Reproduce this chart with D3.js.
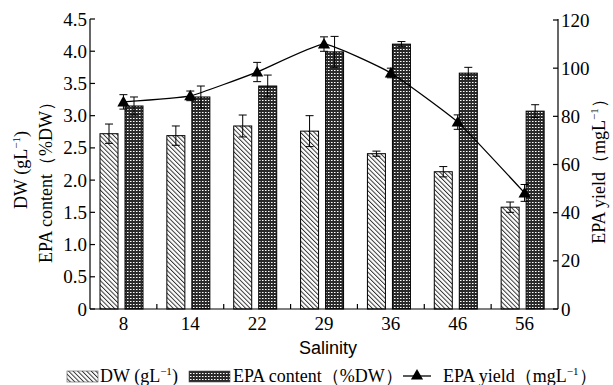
<!DOCTYPE html>
<html><head><meta charset="utf-8">
<script src="https://cdn.jsdelivr.net/npm/d3@7"></script>
<style>body{margin:0;background:#fff}svg{display:block}
.serif{font-family:"Liberation Serif","DejaVu Serif","Times New Roman",serif}
.sans{font-family:"Liberation Sans",Arial,sans-serif}
</style>
</head><body>
<script>
const categories = ["8","14","22","29","36","46","56"];
const dwValues = [2.72,2.69,2.84,2.76,2.41,2.13,1.58];
const dwErrors = [0.15,0.15,0.17,0.24,0.04,0.08,0.08];
const epaContent = [3.15,3.29,3.46,3.99,4.11,3.66,3.07];
const epaContentErr = [0.14,0.17,0.17,0.24,0.04,0.09,0.10];
const epaYield = [86,88.5,98.4,110,98,77.6,48.2];
const epaYieldErr = [3,2,4,3,2,3,3.5];
const leftTicks = [0,0.5,1.0,1.5,2.0,2.5,3.0,3.5,4.0,4.5];
const rightTicks = [0,20,40,60,80,100,120];

const W=613,H=385;
const svg=d3.select("body").append("svg").attr("width",W).attr("height",H);
const defs=svg.append("defs");
const hatch=defs.append("pattern").attr("id","hatch").attr("patternUnits","userSpaceOnUse")
  .attr("width",3.2).attr("height",3.2).attr("patternTransform","rotate(-45)");
hatch.append("rect").attr("width",3.2).attr("height",3.2).attr("fill","#fff");
hatch.append("line").attr("x1",0.5).attr("y1",0).attr("x2",0.5).attr("y2",3.2).attr("stroke","#222").attr("stroke-width",0.9);
const dots=defs.append("pattern").attr("id","dots").attr("patternUnits","userSpaceOnUse").attr("width",3).attr("height",3);
dots.append("rect").attr("width",3).attr("height",3).attr("fill","#2a2a2a");
dots.append("rect").attr("x",1).attr("y",1).attr("width",1).attr("height",1).attr("fill","#fff");
dots.append("rect").attr("x",2).attr("y",1).attr("width",1).attr("height",1).attr("fill","#999");

const x0=90,x1=558,yTop=19,yBot=309;
const x=d3.scaleBand().domain(categories).range([x0,x1]).padding(0);
const yL=d3.scaleLinear().domain([0,4.5]).range([yBot,yTop]);
const yR=d3.scaleLinear().domain([0,120]).range([yBot,yTop+1]);
const bw=x.bandwidth();
const barW=18;

const g=svg.append("g");
g.selectAll(".dw").data(categories).join("rect")
  .attr("x",d=>x(d)+10).attr("width",barW)
  .attr("y",(d,i)=>yL(dwValues[i])).attr("height",(d,i)=>yBot-yL(dwValues[i]))
  .attr("fill","url(#hatch)").attr("stroke","#000").attr("stroke-width",1);
g.selectAll(".epa").data(categories).join("rect")
  .attr("x",d=>x(d)+35).attr("width",barW)
  .attr("y",(d,i)=>yL(epaContent[i])).attr("height",(d,i)=>yBot-yL(epaContent[i]))
  .attr("fill","url(#dots)").attr("stroke","#000").attr("stroke-width",1);

function errBar(cx,yTopV,yBotV){
  const p=g.append("g").attr("stroke","#000").attr("stroke-width",1).attr("fill","none");
  p.append("line").attr("x1",cx).attr("x2",cx).attr("y1",yTopV).attr("y2",yBotV);
  p.append("line").attr("x1",cx-4).attr("x2",cx+4).attr("y1",yTopV).attr("y2",yTopV);
  p.append("line").attr("x1",cx-4).attr("x2",cx+4).attr("y1",yBotV).attr("y2",yBotV);
}
categories.forEach((c,i)=>{
  errBar(x(c)+10+barW/2, yL(dwValues[i]+dwErrors[i]), yL(dwValues[i]-dwErrors[i]));
  errBar(x(c)+35+barW/2, yL(epaContent[i]+epaContentErr[i]), yL(epaContent[i]-epaContentErr[i]));
});
categories.forEach((c,i)=>{
  errBar(x(c)+bw/2, yR(epaYield[i]+epaYieldErr[i]), yR(epaYield[i]-epaYieldErr[i]));
});
const line=d3.line().x((d,i)=>x(categories[i])+bw/2).y(d=>yR(d)).curve(d3.curveCardinal.tension(0.6));
g.append("path").datum(epaYield).attr("d",line).attr("fill","none").attr("stroke","#000").attr("stroke-width",1.3);
const tri=d3.symbol().type(d3.symbolTriangle).size(64);
g.selectAll(".tri").data(epaYield).join("path")
  .attr("d",tri).attr("transform",(d,i)=>`translate(${x(categories[i])+bw/2},${yR(d)+1})`).attr("fill","#000");

const ax=svg.append("g").attr("stroke","#000").attr("stroke-width",1.2).attr("fill","none");
ax.append("line").attr("x1",x0).attr("x2",x0).attr("y1",yTop).attr("y2",yBot);
ax.append("line").attr("x1",x1).attr("x2",x1).attr("y1",yTop).attr("y2",yBot);
ax.append("line").attr("x1",x0).attr("x2",x1).attr("y1",yBot).attr("y2",yBot);
leftTicks.forEach(t=>{ax.append("line").attr("x1",x0).attr("x2",x0+5).attr("y1",yL(t)).attr("y2",yL(t));});
rightTicks.forEach(t=>{ax.append("line").attr("x1",x1-5).attr("x2",x1).attr("y1",yR(t)).attr("y2",yR(t));});
categories.slice(1).forEach(c=>{ax.append("line").attr("x1",x(c)).attr("x2",x(c)).attr("y1",yBot).attr("y2",yBot-5);});

const txt=svg.append("g").attr("class","serif").attr("fill","#000");
leftTicks.forEach(t=>{
  txt.append("text").attr("x",x0-3).attr("y",yL(t)+6.5).attr("text-anchor","end").attr("font-size",19)
   .text(t===0?"0":d3.format(".1f")(t));
});
rightTicks.forEach(t=>{
  txt.append("text").attr("x",x1+3).attr("y",yR(t)+6.5).attr("font-size",19).text(t);
});
categories.forEach(c=>{
  txt.append("text").attr("x",x(c)+bw/2).attr("y",330).attr("text-anchor","middle").attr("font-size",19).text(c);
});
svg.append("text").attr("class","sans").attr("x",328).attr("y",354).attr("text-anchor","middle")
  .attr("font-size",18).text("Salinity");

function supLabel(parent,pre,post){
  parent.append("tspan").text(pre);
  parent.append("tspan").attr("font-size",11).attr("dy",-7).text("−1");
  parent.append("tspan").attr("dy",7).text(post);
}
const lt1=txt.append("text").attr("transform","translate(27,170) rotate(-90)").attr("text-anchor","middle").attr("font-size",18);
supLabel(lt1,"DW (gL",")");
const lt2=txt.append("text").attr("transform","translate(52,178) rotate(-90)").attr("text-anchor","middle").attr("font-size",18);
lt2.text("EPA content（%DW）");
const rt=txt.append("text").attr("transform","translate(605,167) rotate(-90)").attr("text-anchor","middle").attr("font-size",18);
supLabel(rt,"EPA yield（mgL","）");

const lg=svg.append("g").attr("class","serif");
lg.append("rect").attr("x",67).attr("y",371).attr("width",31).attr("height",11).attr("fill","url(#hatch)").attr("stroke","#555").attr("stroke-width",0.6);
const l1=lg.append("text").attr("x",100).attr("y",382).attr("font-size",18);
supLabel(l1,"DW (gL",") ");
lg.append("rect").attr("x",189).attr("y",371).attr("width",41).attr("height",11).attr("fill","url(#dots)").attr("stroke","#555").attr("stroke-width",0.6);
lg.append("text").attr("x",233).attr("y",382).attr("font-size",18).text("EPA content（%DW）");
lg.append("line").attr("x1",403).attr("x2",431).attr("y1",376).attr("y2",376).attr("stroke","#000").attr("stroke-width",1.3);
lg.append("path").attr("d",tri).attr("transform","translate(417,376)").attr("fill","#000");
const l3=lg.append("text").attr("x",443).attr("y",382).attr("font-size",18);
supLabel(l3,"EPA yield（mgL","）");
</script>
</body></html>
